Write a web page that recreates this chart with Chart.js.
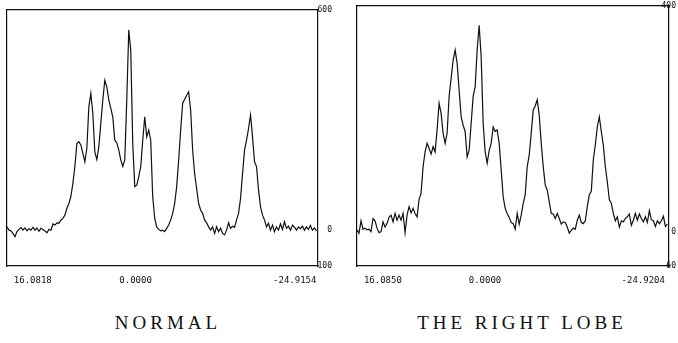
<!DOCTYPE html>
<html lang="en">
<head>
    <meta charset="UTF-8">
    <title>Normal / Right lobe spectra</title>
    <style>
        body {
            margin: 0;
            background: #fff;
            width: 678px;
            height: 343px;
            overflow: hidden;
            position: relative;
        }
        .panel {
            position: absolute;
            top: 0;
        }
        #leftPanel { left: 0; }
        #rightPanel { left: 340px; }
        .caption {
            position: absolute;
            top: 312px;
            font-family: "Liberation Serif", "DejaVu Serif", serif;
            font-size: 19px;
            letter-spacing: 4px;
            color: #111;
            white-space: nowrap;
            transform: translateX(-50%);
        }
    </style>
</head>
<body>
    <div class="panel" id="leftPanel"><canvas id="normalChart" width="340" height="300"></canvas></div>
    <div class="panel" id="rightPanel"><canvas id="lobeChart" width="338" height="300"></canvas></div>
    <div class="caption" style="left:168px;">NORMAL</div>
    <div class="caption" style="left:522px;">THE RIGHT LOBE</div>

    <script src="https://cdn.jsdelivr.net/npm/chart.js"></script>
    <script>
        // intensity, one value every 2 px across the frame
        const normalVals = [7, -2, -4, -11, -20, -6, 0, 5, -2, 4,
            -4, 2, -2, 6, -2, 4, -5, 3, 0, -4,
            -9, 0, -2, 15, 12, 18, 17, 26, 30, 39,
            58, 71, 90, 126, 172, 235, 240, 231, 208, 185,
            222, 335, 372, 317, 212, 191, 226, 290, 354, 408,
            390, 354, 331, 308, 244, 237, 217, 190, 172, 190,
            354, 545, 490, 235, 117, 121, 144, 172, 244, 308,
            253, 272, 244, 90, 30, 7, 0, -4, -2, -6,
            3, 12, 26, 44, 71, 117, 190, 272, 345, 356,
            367, 376, 326, 217, 153, 112, 71, 53, 44, 26,
            18, 7, -2, 7, -11, 7, -6, 3, -11, -15,
            -2, 18, 3, 9, 6, 26, 44, 85, 153, 217,
            244, 276, 313, 253, 185, 172, 108, 62, 39, 26,
            7, 17, -2, 12, -6, 7, -2, 15, 0, 21,
            3, 9, -2, 12, 6, -2, 7, 2, 9, -2,
            7, 0, 11, -2, 4, -4];

        const lobeVals = [4, -2, 20, 5, 7, 4, 5, 1, 24, 20,
            7, -1, 1, 18, 9, 15, 26, 30, 18, 33,
            21, 30, 21, 33, -1, 30, 45, 34, 42, 33,
            27, 58, 69, 116, 142, 157, 148, 138, 151, 142,
            181, 228, 210, 175, 157, 175, 240, 272, 304, 322,
            299, 251, 204, 189, 178, 133, 145, 192, 240, 257,
            322, 366, 310, 192, 142, 122, 144, 157, 186, 178,
            181, 157, 110, 62, 42, 33, 26, 17, 15, 5,
            33, 14, 30, 51, 66, 116, 136, 175, 216, 223,
            234, 207, 157, 116, 83, 74, 54, 33, 32, 24,
            33, 24, 14, 18, 17, 9, -2, 3, 7, 5,
            21, 30, 17, 15, 20, 45, 66, 72, 128, 154,
            186, 204, 178, 154, 116, 89, 57, 51, 33, 20,
            27, 9, 20, 18, 24, 27, 32, 12, 21, 33,
            21, 32, 24, 18, 27, 17, 38, 22, 20, 10,
            20, 15, 20, 28, 10, 14];

        // ppm labels under each frame
        const normalPpmTicks = [16.0818, 0, -24.9154];
        const lobePpmTicks = [16.0850, 0, -24.9204];

        // labels on the right edge
        const normalYTicks = [600, 0, -100];
        const lobeYTicks = [400, 0, -60];

        const ink = '#111';

        function makeSpectrum(canvasId, vals, yTicks, ppmTicks, cfg) {
            const points = vals.map((v, i) => ({ x: i, y: v }));
            const frame = { display: true, color: ink, width: 1.2 };
            const noGrid = { display: true, drawOnChartArea: false, drawTicks: false };

            return new Chart(document.getElementById(canvasId), {
                type: 'line',
                data: {
                    datasets: [{
                        data: points,
                        borderColor: ink,
                        borderWidth: 1.2,
                        pointRadius: 0,
                        tension: 0,
                        fill: false
                    }]
                },
                options: {
                    responsive: false,
                    animation: false,
                    events: [],
                    layout: { padding: { left: cfg.left, top: cfg.top, right: cfg.right, bottom: 0 } },
                    plugins: { legend: { display: false }, tooltip: { enabled: false } },
                    scales: {
                        x: { type: 'linear', display: false, min: 0, max: 155.8 },
                        ppm: {
                            type: 'linear',
                            position: 'bottom',
                            reverse: true,
                            min: cfg.ppmMin,
                            max: cfg.ppmMax,
                            border: frame,
                            grid: noGrid,
                            afterBuildTicks: s => { s.ticks = ppmTicks.map(v => ({ value: v })); },
                            afterFit: s => { s.height = 34; s.paddingLeft = 0; s.paddingRight = 0; },
                            ticks: {
                                autoSkip: false,
                                maxRotation: 0,
                                padding: 9,
                                color: ink,
                                font: { family: '"DejaVu Sans Mono", monospace', size: 9 },
                                callback: v => Number(v).toFixed(4)
                            }
                        },
                        xTop: {
                            type: 'linear',
                            position: 'top',
                            min: 0,
                            max: 1,
                            border: frame,
                            grid: noGrid,
                            ticks: { display: false },
                            afterFit: s => { s.height = 0; }
                        },
                        y: {
                            type: 'linear',
                            position: 'left',
                            min: cfg.yMin,
                            max: cfg.yMax,
                            border: frame,
                            grid: noGrid,
                            ticks: { display: false },
                            afterFit: s => { s.width = 0; s.paddingTop = 0; s.paddingBottom = 0; }
                        },
                        yRight: {
                            type: 'linear',
                            position: 'right',
                            min: cfg.yMin,
                            max: cfg.yMax,
                            border: frame,
                            grid: noGrid,
                            afterBuildTicks: s => { s.ticks = yTicks.map(v => ({ value: v })); },
                            afterFit: s => { s.width = cfg.axisW; s.paddingTop = 0; s.paddingBottom = 0; },
                            ticks: {
                                autoSkip: false,
                                mirror: true,  // mirrored labels are not clipped to the thin axis box
                                padding: cfg.labelPad,
                                color: ink,
                                font: { family: '"DejaVu Sans Mono", monospace', size: 8 }
                            }
                        }
                    }
                }
            });
        }

        makeSpectrum('normalChart', normalVals, normalYTicks, normalPpmTicks, {
            left: 7, top: 10, right: 8, axisW: 14, labelPad: 14,
            yMin: -100, yMax: 600, ppmMin: -28.55, ppmMax: 20.12
        });

        makeSpectrum('lobeChart', lobeVals, lobeYTicks, lobePpmTicks, {
            left: 17, top: 6, right: 2, axisW: 7, labelPad: 7,
            yMin: -60, yMax: 400, ppmMin: -28.98, ppmMax: 20.16
        });
    </script>
</body>
</html>
